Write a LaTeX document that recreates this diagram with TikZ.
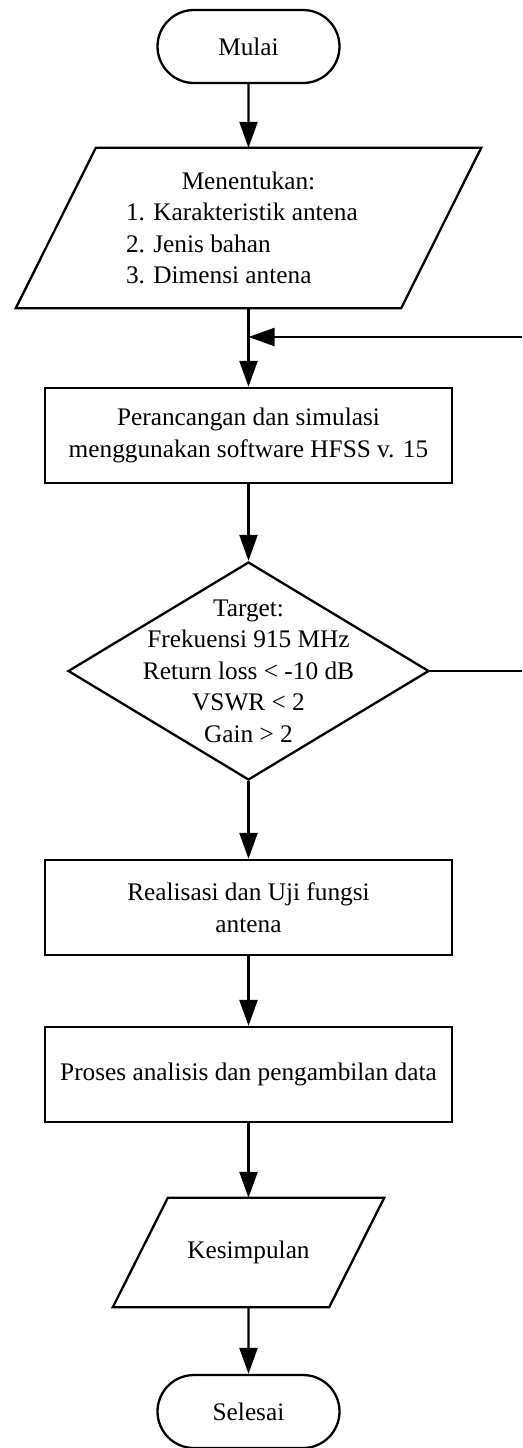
\documentclass[tikz,border=0pt]{standalone}
\usepackage{fontspec}
\setmainfont{Liberation Serif}
\usetikzlibrary{arrows.meta,shapes.geometric,shapes.misc}
\tikzset{
  base/.style={draw=black, line width=2.3pt, inner sep=0pt, align=center,
    font=\fontsize{25.3}{31.5}\selectfont},
  term/.style={base, rounded rectangle, minimum width=182pt, minimum height=73pt},
  procbox/.style={base, rectangle, minimum width=407pt, minimum height=95pt},
  ioframe/.style={rectangle, inner sep=0pt, align=center,
    font=\fontsize{25.3}{31.5}\selectfont},
  decision/.style={base, diamond, minimum width=361pt, minimum height=218pt,
    inner xsep=-80pt, inner ysep=-60pt},
  flow/.style={line width=2.3pt, -{Triangle[length=26pt,width=18pt]}},
  plain/.style={line width=2.3pt},
}
\newcommand{\listline}[1]{\makebox[245pt][l]{#1}}
\begin{document}
\begin{tikzpicture}[x=1pt,y=-1pt]
\useasboundingbox (0,0) rectangle (522,1448);
\clip (0,0) rectangle (522,1448);
\fill[white] (0,0) rectangle (522,1448);

\node[term] (mulai) at (248.5,46.5) {Mulai};

\node[ioframe, minimum width=385pt, minimum height=160pt] (p1) at (248.5,228)
  {Menentukan:\\ \listline{1. Karakteristik antena}\\ \listline{2. Jenis bahan}\\ \listline{3. Dimensi antena}};
\draw[plain, line join=miter] ([xshift=40pt]p1.north west) -- ([xshift=40pt]p1.north east)
  -- ([xshift=-40pt]p1.south east) -- ([xshift=-40pt]p1.south west) -- cycle;

\node[procbox] (b2) at (248.5,435.5) {Perancangan dan simulasi\\ menggunakan software HFSS v. 15};

\node[decision] (d) at (248.5,671) {Target:\\ Frekuensi 915 MHz\\ Return loss < -10 dB\\ VSWR < 2\\ Gain > 2};

\node[procbox] (b3) at (248.5,907.5) {Realisasi dan Uji fungsi\\ antena};

\node[procbox] (b4) at (248.5,1074.5) {Proses analisis dan pengambilan data};

\node[ioframe, minimum width=216pt, minimum height=109pt] (p2) at (248.5,1252.5) {Kesimpulan};
\draw[plain, line join=miter] ([xshift=27.5pt]p2.north west) -- ([xshift=27.5pt]p2.north east)
  -- ([xshift=-27.5pt]p2.south east) -- ([xshift=-27.5pt]p2.south west) -- cycle;

\node[term] (selesai) at (248.5,1411.5) {Selesai};

\coordinate (join) at (248.5,337);

\draw[flow] (mulai) -- (p1.north);
\draw[flow] (p1.south) -- (b2.north);
\draw[flow] (b2) -- (d);
\draw[flow] (d.east) -- ++(150,0) |- (join);
\draw[flow] (d) -- (b3);
\draw[flow] (b3) -- (b4);
\draw[flow] (b4) -- (p2.north);
\draw[flow] (p2.south) -- (selesai);
\end{tikzpicture}
\end{document}
